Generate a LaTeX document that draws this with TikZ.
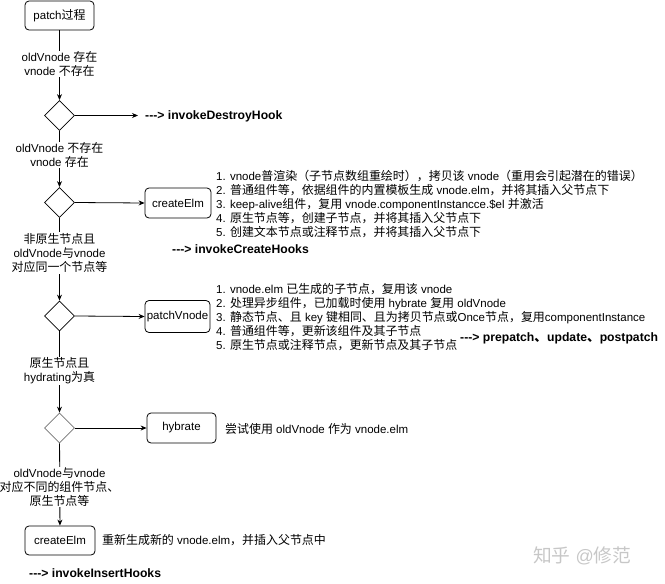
\documentclass[tikz,border=0pt]{standalone}
\usepackage{fontspec}
\setmainfont{Liberation Sans}
\newfontfamily\cjk{Noto Sans CJK SC}[Scale=1.04,RawFeature=-chws]
\usetikzlibrary{shapes.geometric,arrows.meta}
\XeTeXinterchartokenstate=1
\newXeTeXintercharclass\CJKcls
\makeatletter
\def\setcjkrange#1#2{\count@=#1\relax\loop\XeTeXcharclass\count@=\CJKcls\relax\ifnum\count@<#2\relax\advance\count@ by 1\relax\repeat}
\makeatother
\setcjkrange{"3000}{"303F}
\setcjkrange{"4E00}{"9FFF}
\setcjkrange{"FF00}{"FFEF}
\XeTeXinterchartoks 0 \CJKcls = {\begingroup\cjk}
\XeTeXinterchartoks 4095 \CJKcls = {\begingroup\cjk}
\XeTeXinterchartoks \CJKcls 0 = {\endgroup}
\XeTeXinterchartoks \CJKcls 4095 = {\endgroup}
\newcommand\darr{-{}-{}-{}>}
\begin{document}
\begin{tikzpicture}[x=1pt,y=-1pt,
  every node/.style={font=\fontsize{11.5}{14}\selectfont},
  box/.style={draw,rounded corners=4pt,line width=0.8pt,inner sep=0pt,minimum height=29pt},
  dia/.style={draw,diamond,line width=0.8pt,inner sep=0pt,minimum width=30pt,minimum height=30pt},
  lab/.style={fill=white,align=center,inner sep=1pt},
  txt/.style={anchor=west,align=left,inner sep=0pt},
  hook/.style={anchor=west,inner sep=0pt,font=\fontsize{12.2}{14}\selectfont\bfseries},
  arr/.style={line width=0.8pt,-{Stealth[length=6pt,width=5pt]}}]
\useasboundingbox (0,0) rectangle (665,584);
% nodes
\node[box,minimum width=69pt] (patch) at (59.5,15.5) {patch过程};
\node[dia] (d1) at (59.5,115.5) {};
\node[dia] (d2) at (59.5,202.5) {};
\node[dia] (d3) at (59.5,316) {};
\node[dia,draw=black!55] (d4) at (59.5,428) {};
\node[box,minimum width=70pt] (ce2) at (60,540.5) {createElm};
\node[box,minimum width=66pt,minimum height=30pt] (ce1) at (178,203) {createElm};
\node[box,minimum width=65pt,minimum height=32pt] (pv) at (177.5,316.5) {patchVnode};
\node[box,minimum width=69pt,minimum height=30pt] (hy) at (181.5,428) {hybrate};
\coordinate (dh) at (138,115.5);
% connectors
\draw[arr] (patch) -- (d1);
\draw[arr] (d1) -- (d2);
\draw[arr] (d2) -- (d3);
\draw[arr] (d3) -- (d4);
\draw[arr] (d4) -- (ce2);
\draw[arr] (d1.east) -- (dh);
\draw[arr] (d2.east) -- (ce1.west);
\draw[arr] (d3.east) -- (pv.west);
\draw[arr] (d4.east) -- (hy.west);
% edge labels
\node[lab] (l1) at (59.5,64) {oldVnode 存在\\vnode 不存在};
\node[lab] (l2) at (59.5,155) {oldVnode 不存在\\vnode 存在};
\node[lab] (l3) at (59.5,253) {非原生节点且\\oldVnode与vnode\\对应同一个节点等};
\node[lab] (l4) at (59.5,371) {原生节点且\\hydrating为真};
\node[lab] (l5) at (59.5,487) {oldVnode与vnode\\对应不同的组件节点、\\原生节点等};
% texts
\node[hook] (h1) at (145,116) {\darr{} invokeDestroyHook};
\node[txt] (t1) at (216,204) {1. vnode普渲染（子节点数组重绘时），拷贝该 vnode（重用会引起潜在的错误）\\
2. 普通组件等，依据组件的内置模板生成 vnode.elm，并将其插入父节点下\\
3. keep-alive组件，复用 vnode.componentInstancce.\$el 并激活\\
4. 原生节点等，创建子节点，并将其插入父节点下\\
5. 创建文本节点或注释节点，并将其插入父节点下};
\node[hook] (h2) at (172,249) {\darr{} invokeCreateHooks};
\node[txt] (t2) at (216,317) {1. vnode.elm 已生成的子节点，复用该 vnode\\
2. 处理异步组件，已加载时使用 hybrate 复用 oldVnode\\
3. 静态节点、且 key 键相同、且为拷贝节点或Once节点，复用componentInstance\\
4. 普通组件等，更新该组件及其子节点\\
5. 原生节点或注释节点，更新节点及其子节点};
\node[hook] (h3) at (460,338) {\darr{} prepatch、update、postpatch};
\node[txt] (t3) at (225,429) {尝试使用 oldVnode 作为 vnode.elm};
\node[txt] (t4) at (102,540.5) {重新生成新的 vnode.elm，并插入父节点中};
\node[hook] (h4) at (29,573) {\darr{} invokeInsertHooks};
\node[txt,text=black!22,font=\fontsize{18}{20}\selectfont] (wm) at (533,556) {知乎 @修范};
\end{tikzpicture}
\end{document}
